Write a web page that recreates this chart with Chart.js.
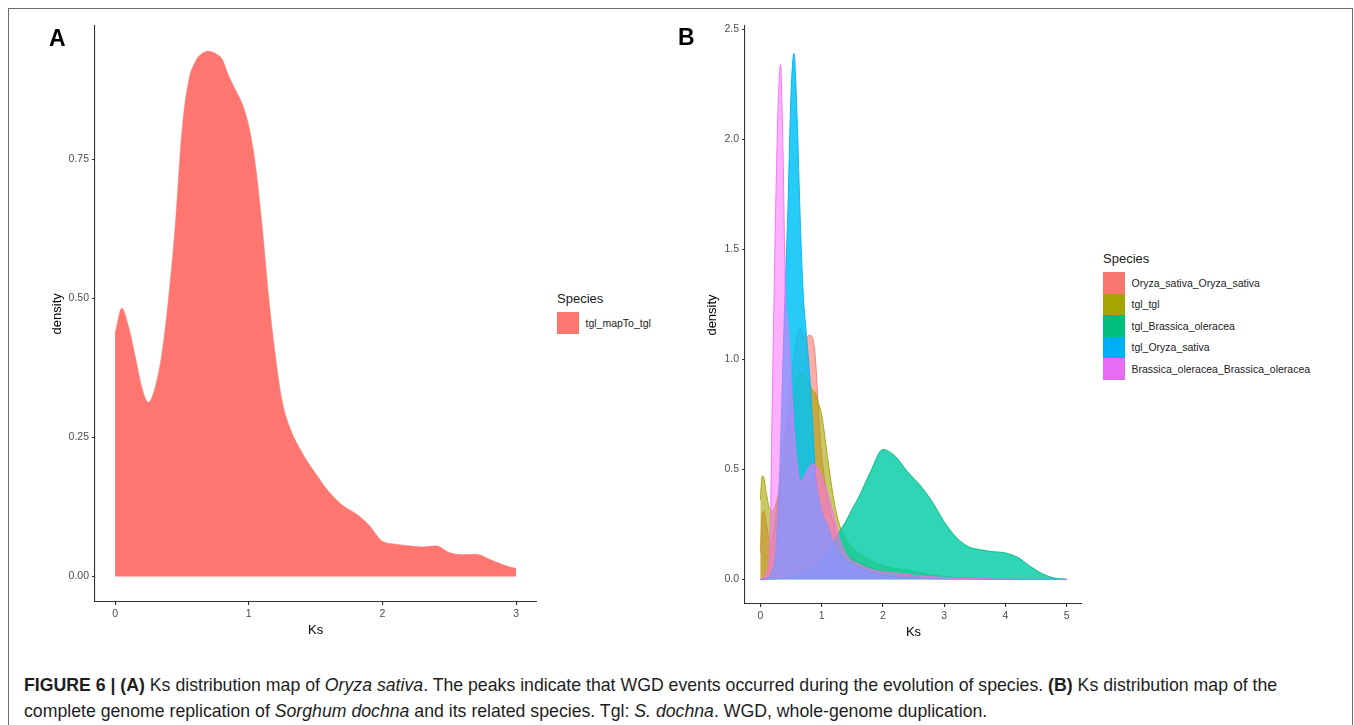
<!DOCTYPE html>
<html>
<head>
<meta charset="utf-8">
<script src="https://cdn.jsdelivr.net/npm/chart.js@4.4.1/dist/chart.umd.min.js"></script>
<style>
  body { margin: 0; background: #fff; font-family: "Liberation Sans", Arial, sans-serif; }
  #lienzo { position: relative; width: 1354px; height: 725px; overflow: hidden; }
  .marco { position: absolute; left: 8px; top: 8px; width: 1343px; height: 760px; border: 1.5px solid #6b6b6b; }
  canvas { position: absolute; }
  .letra { position: absolute; font-weight: bold; font-size: 23px; color: #000; line-height: 1; }
  .leyenda { position: absolute; color: #1a1a1a; }
  .leyenda .titulo { font-size: 13px; height: 16px; line-height: 16px; margin-bottom: 5px; }
  .leyenda .item { display: flex; align-items: center; height: 21.5px; }
  .leyenda .caja { width: 21.5px; height: 21.5px; margin-right: 7px; }
  .leyenda .texto { font-size: 10.5px; color: #222; }
  .pie { position: absolute; left: 24px; top: 672px; font-size: 17.7px; line-height: 26px; color: #1e1e1e; white-space: nowrap; }
</style>
</head>
<body>
<div id="lienzo">
  <div class="marco"></div>
  <canvas id="graficaA" width="540" height="632" style="left:10px; top:10px;"></canvas>
  <canvas id="graficaB" width="402" height="634" style="left:690px; top:10px;"></canvas>
  <div class="letra" style="left:49px; top:27px;">A</div>
  <div class="letra" style="left:678px; top:26px;">B</div>
  <div class="leyenda" id="leyendaA" style="left:557px; top:291px;"></div>
  <div class="leyenda" id="leyendaB" style="left:1103px; top:251px;"></div>
  <div class="pie"><b>FIGURE 6 | (A)</b> Ks distribution map of <i>Oryza sativa</i>. The peaks indicate that WGD events occurred during the evolution of species. <b>(B)</b> Ks distribution map of the<br>complete genome replication of <i>Sorghum dochna</i> and its related species. Tgl: <i>S. dochna</i>. WGD, whole-genome duplication.</div>
</div>
<script>
// panel A
var especiesA = ['tgl_mapTo_tgl'];
var ksA = [0, 0.05, 0.1, 0.15, 0.2, 0.25, 0.3, 0.35, 0.4, 0.45, 0.5, 0.55, 0.6, 0.65, 0.7, 0.75, 0.8, 0.85, 0.9, 0.95,
           1.0, 1.05, 1.1, 1.15, 1.2, 1.25, 1.3, 1.4, 1.5, 1.6, 1.7, 1.8, 1.9, 2.0, 2.1, 2.2, 2.3, 2.4, 2.5, 2.6, 2.7, 2.8, 2.9, 3.0];
var densidadA = [0.436, 0.482, 0.45, 0.397, 0.34, 0.313, 0.34, 0.40, 0.50, 0.63, 0.80, 0.89, 0.925, 0.94, 0.944, 0.94, 0.93, 0.90, 0.875, 0.85,
                 0.81, 0.74, 0.63, 0.50, 0.395, 0.315, 0.272, 0.222, 0.185, 0.152, 0.128, 0.113, 0.092, 0.063, 0.058, 0.055, 0.053, 0.055, 0.043, 0.039, 0.040, 0.031, 0.021, 0.014];
var xTicksA = [0, 1, 2, 3];
var yTicksA = [0, 0.25, 0.5, 0.75];

// panel B
var especiesB = ['Oryza_sativa_Oryza_sativa', 'tgl_tgl', 'tgl_Brassica_oleracea', 'tgl_Oryza_sativa', 'Brassica_oleracea_Brassica_oleracea'];
var ksB = [0, 0.03, 0.06, 0.1, 0.15, 0.2, 0.25, 0.29, 0.33, 0.37, 0.41, 0.45, 0.5, 0.55, 0.6, 0.65, 0.7, 0.75, 0.8, 0.85, 0.9, 0.95,
           1.0, 1.1, 1.2, 1.3, 1.4, 1.5, 1.6, 1.8, 2.0, 2.2, 2.4, 2.6, 2.8, 3.0, 3.2, 3.4, 3.6, 3.8, 4.0, 4.2, 4.4, 4.6, 4.8, 5.0];
var oryzaOryza = [0.12, 0.29, 0.31, 0.25, 0.18, 0.19, 0.28, 0.38, 0.48, 0.58, 0.68, 0.78, 0.9, 1.02, 1.11, 1.14, 1.115, 1.10, 1.11, 1.10, 1.0, 0.76,
                  0.57, 0.37, 0.25, 0.18, 0.13, 0.1, 0.08, 0.055, 0.04, 0.03, 0.022, 0.016, 0.012, 0.008, 0.006, 0.004, 0.003, 0.002, 0.002, 0.001, 0.001, 0.0005, 0, 0];
var tglTgl = [0.36, 0.47, 0.46, 0.39, 0.32, 0.31, 0.34, 0.38, 0.43, 0.49, 0.56, 0.64, 0.75, 0.85, 0.91, 0.935, 0.935, 0.915, 0.885, 0.86, 0.845, 0.8,
              0.75, 0.55, 0.36, 0.24, 0.18, 0.145, 0.12, 0.085, 0.062, 0.05, 0.042, 0.03, 0.02, 0.013, 0.009, 0.006, 0.004, 0.003, 0.002, 0.001, 0, 0, 0, 0];
var tglBrassica = [0, 0, 0, 0.001, 0.001, 0.002, 0.003, 0.004, 0.005, 0.006, 0.008, 0.01, 0.012, 0.015, 0.02, 0.025, 0.032, 0.04, 0.048, 0.057, 0.067, 0.078,
                   0.09, 0.125, 0.17, 0.22, 0.265, 0.32, 0.37, 0.49, 0.59, 0.56, 0.49, 0.43, 0.355, 0.262, 0.19, 0.148, 0.134, 0.126, 0.12, 0.1, 0.06, 0.026, 0.006, 0];
var tglOryza = [0, 0, 0.002, 0.005, 0.015, 0.04, 0.12, 0.3, 0.6, 1.0, 1.35, 1.68, 2.2, 2.39, 2.1, 1.65, 1.3, 1.12, 0.95, 0.72, 0.48, 0.37,
                0.31, 0.24, 0.165, 0.115, 0.085, 0.068, 0.055, 0.032, 0.018, 0.012, 0.008, 0.005, 0.003, 0.002, 0.001, 0.001, 0, 0, 0, 0, 0, 0, 0, 0];
var brassicaBrassica = [0, 0.005, 0.01, 0.03, 0.1, 0.9, 1.68, 2.15, 2.34, 1.95, 1.3, 1.15, 0.92, 0.68, 0.52, 0.45, 0.46, 0.485, 0.51, 0.525, 0.52, 0.5,
                        0.47, 0.39, 0.29, 0.18, 0.115, 0.085, 0.07, 0.045, 0.034, 0.028, 0.022, 0.016, 0.012, 0.009, 0.006, 0.004, 0.003, 0.002, 0.001, 0, 0, 0, 0, 0];
var xTicksB = [0, 1, 2, 3, 4, 5];
var yTicksB = [0, 0.5, 1.0, 1.5, 2.0, 2.5];

var colorA = '#FD7670';
var coloresB = ['#F8766D', '#A3A500', '#00BF7D', '#00B0F6', '#E76BF3'];
var lineasB = ['#F8766D', '#A3A500', '#00B87A', '#00B0F6', '#F070F5'];
var rellenosB = ['rgba(248,118,109,0.6)', 'rgba(163,165,0,0.6)', 'rgba(0,205,165,0.82)', 'rgba(0,195,245,0.85)', 'rgba(255,110,255,0.55)'];

Chart.defaults.font.family = '"Liberation Sans", Arial, sans-serif';

function puntos(xs, ys) {
  return xs.map(function (x, i) { return { x: x, y: ys[i] }; });
}

function escalas(xMin, xMax, yMin, yMax, xTicks, yTicks, yDecimales, anchoY, paddingTitulo) {
  var eje = { display: true, color: '#333', width: 1.1 };
  var rejilla = { display: true, drawOnChartArea: false, drawTicks: true, tickLength: 3, color: '#333', lineWidth: 1.1 };
  var marcas = { color: '#4d4d4d', font: { size: 10.5 }, padding: 3, maxRotation: 0 };
  return {
    x: {
      type: 'linear', min: xMin, max: xMax,
      border: eje, grid: rejilla,
      ticks: Object.assign({}, marcas, { callback: function (v) { return v; } }),
      afterBuildTicks: function (s) { s.ticks = xTicks.map(function (v) { return { value: v }; }); },
      afterFit: function (s) { s.height = 40; },
      title: { display: true, text: 'Ks', color: '#000', font: { size: 13 }, padding: { top: 0, bottom: 4.2 } }
    },
    y: {
      type: 'linear', min: yMin, max: yMax,
      border: eje, grid: rejilla,
      ticks: Object.assign({}, marcas, { callback: function (v) { return Number(v).toFixed(yDecimales); } }),
      afterBuildTicks: function (s) { s.ticks = yTicks.map(function (v) { return { value: v }; }); },
      afterFit: function (s) { s.width = anchoY; },
      title: { display: true, text: 'density', color: '#000', font: { size: 13 }, padding: { top: paddingTitulo, bottom: 0 } }
    }
  };
}

var graficaA = new Chart(document.getElementById('graficaA'), {
  type: 'line',
  data: {
    datasets: [{
      label: especiesA[0],
      data: puntos(ksA, densidadA),
      fill: 'origin',
      backgroundColor: colorA,
      borderColor: colorA,
      borderWidth: 0.5,
      pointRadius: 0,
      cubicInterpolationMode: 'monotone'
    }]
  },
  options: {
    responsive: false,
    animation: false,
    layout: { padding: { left: 0, top: 15.7, right: 13.8, bottom: 0 } },
    plugins: { legend: { display: false }, tooltip: { enabled: false } },
    scales: escalas(-0.15, 3.15, -0.046, 0.99, xTicksA, yTicksA, 2, 85, 39.2)
  }
});

var seriesB = [oryzaOryza, tglTgl, tglBrassica, tglOryza, brassicaBrassica];
var datasetsB = [];
for (var i = 0; i < especiesB.length; i++) {
  datasetsB.push({
    label: especiesB[i],
    data: puntos(ksB, seriesB[i]),
    fill: 'origin',
    backgroundColor: rellenosB[i],
    borderColor: lineasB[i],
    borderWidth: 0.9,
    pointRadius: 0,
    cubicInterpolationMode: 'monotone',
    order: especiesB.length - i   // el ultimo queda encima, como en ggplot
  });
}

var graficaB = new Chart(document.getElementById('graficaB'), {
  type: 'line',
  data: { datasets: datasetsB },
  options: {
    responsive: false,
    animation: false,
    layout: { padding: { left: 0, top: 16, right: 10, bottom: 0 } },
    plugins: { legend: { display: false }, tooltip: { enabled: false } },
    scales: escalas(-0.25, 5.25, -0.112, 2.515, xTicksB, yTicksB, 1, 55, 14.2)
  }
});

// leyendas estilo ggplot
function leyenda(id, nombres, colores) {
  var html = '<div class="titulo">Species</div>';
  for (var j = 0; j < nombres.length; j++) {
    html += '<div class="item"><div class="caja" style="background:' + colores[j] + '"></div><span class="texto">' + nombres[j] + '</span></div>';
  }
  document.getElementById(id).innerHTML = html;
}
leyenda('leyendaA', especiesA, [colorA]);
leyenda('leyendaB', especiesB, coloresB);
</script>
</body>
</html>
